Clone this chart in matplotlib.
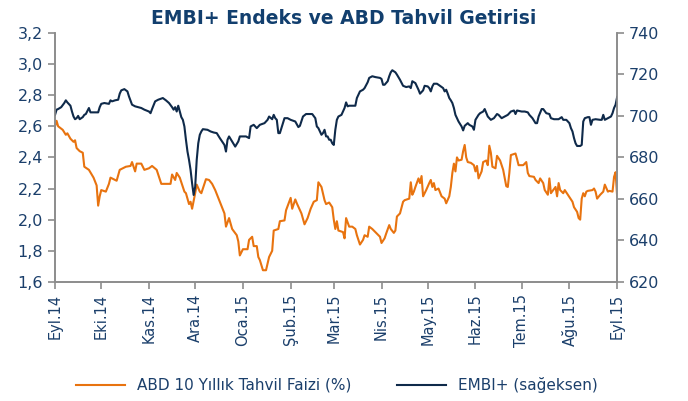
import matplotlib
matplotlib.use("Agg")
import matplotlib.pyplot as plt
from matplotlib.lines import Line2D
import pandas as pd

# ABD 10 yillik tahvil faizi (%) - gun: 1 Eylul 2014'ten itibaren gun sayisi
abd_gun = [0, 1, 2, 5, 7, 8, 10, 12, 13, 14,
           16, 18, 19, 22, 25, 27, 28, 29, 30, 33,
           35, 36, 38, 40, 42, 44, 46, 49, 50, 52,
           53, 56, 58, 61, 63, 66, 69, 73, 75, 76,
           78, 79, 81, 84, 85, 87, 88, 89, 91, 92,
           94, 95, 98, 100, 102, 104, 107, 110, 111, 113,
           115, 118, 119, 120, 122, 125, 126, 128, 129, 131,
           132, 133, 135, 137, 139, 141, 142, 145, 146, 149,
           150, 153, 154, 156, 157, 160, 162, 164, 166, 168,
           170, 171, 173, 175, 176, 178, 180, 181, 182, 183,
           184, 187, 188, 189, 191, 193, 195, 196, 198, 200,
           201, 203, 204, 206, 207, 209, 211, 212, 214, 215,
           217, 218, 220, 221, 222, 224, 226, 227, 230, 231,
           232, 233, 234, 236, 237, 238, 239, 241, 243, 244,
           245, 246, 247, 249, 251, 253, 254, 256, 257, 258,
           259, 260, 261, 262, 264, 265, 266, 267, 268, 270,
           272, 273, 274, 275, 277, 278, 280, 281, 282, 283,
           284, 286, 287, 289, 291, 293, 294, 295, 296, 299,
           300, 301, 304, 306, 307, 308, 311, 312, 314, 315,
           317, 318, 320, 321, 322, 325, 326, 327, 328, 330,
           331, 333, 336, 337, 339, 340, 341, 342, 343, 344,
           345, 346, 349, 350, 351, 352, 354, 356, 357, 359,
           360, 362, 363, 364, 365]
abd_faiz = [2.60, 2.635, 2.60, 2.577, 2.545, 2.555, 2.52, 2.50, 2.51, 2.46,
            2.44, 2.43, 2.34, 2.32, 2.27, 2.22, 2.09, 2.15, 2.19, 2.18,
            2.23, 2.27, 2.26, 2.25, 2.32, 2.33, 2.34, 2.345, 2.37, 2.31,
            2.36, 2.36, 2.32, 2.33, 2.345, 2.32, 2.23, 2.23, 2.23, 2.29,
            2.255, 2.30, 2.27, 2.18, 2.17, 2.10, 2.115, 2.07, 2.17, 2.225,
            2.18, 2.17, 2.26, 2.255, 2.23, 2.19, 2.115, 2.04, 1.955, 2.01,
            1.94, 1.90, 1.86, 1.77, 1.81, 1.81, 1.87, 1.89, 1.83, 1.83,
            1.76, 1.74, 1.675, 1.675, 1.76, 1.80, 1.93, 1.94, 1.99, 1.995,
            2.06, 2.14, 2.07, 2.13, 2.105, 2.04, 1.97, 2.01, 2.07, 2.115,
            2.125, 2.24, 2.21, 2.125, 2.10, 2.11, 2.08, 2.00, 1.94, 1.99,
            1.93, 1.92, 1.88, 2.01, 1.955, 1.955, 1.94, 1.90, 1.84, 1.87,
            1.90, 1.89, 1.955, 1.94, 1.93, 1.91, 1.89, 1.85, 1.88, 1.91,
            1.965, 1.94, 1.915, 1.93, 2.02, 2.04, 2.115, 2.125, 2.135, 2.24,
            2.16, 2.18, 2.21, 2.265, 2.235, 2.28, 2.15, 2.19, 2.235, 2.255,
            2.21, 2.235, 2.19, 2.20, 2.15, 2.135, 2.105, 2.15, 2.21, 2.30,
            2.36, 2.31, 2.40, 2.38, 2.385, 2.44, 2.48, 2.40, 2.37, 2.365,
            2.35, 2.31, 2.345, 2.265, 2.31, 2.37, 2.38, 2.35, 2.475, 2.43,
            2.34, 2.33, 2.41, 2.38, 2.32, 2.215, 2.21, 2.30, 2.415, 2.425,
            2.39, 2.35, 2.35, 2.37, 2.30, 2.28, 2.275, 2.255, 2.235, 2.265,
            2.235, 2.19, 2.16, 2.265, 2.17, 2.21, 2.15, 2.235, 2.19, 2.17,
            2.19, 2.16, 2.115, 2.08, 2.05, 2.01, 2.00, 2.135, 2.17, 2.15,
            2.18, 2.185, 2.19, 2.20, 2.18, 2.135, 2.16, 2.18, 2.225, 2.18,
            2.185, 2.18, 2.275, 2.305, 2.15]

# EMBI+ endeksi (sag eksen)
embi_gun = [0, 1, 2, 4, 6, 7, 8, 10, 11, 12,
            13, 14, 15, 16, 18, 19, 20, 22, 23, 25,
            28, 29, 30, 32, 35, 36, 37, 39, 41, 42,
            43, 45, 47, 48, 50, 52, 54, 56, 58, 61,
            62, 63, 65, 67, 70, 72, 74, 76, 77, 78,
            79, 80, 81, 82, 83, 84, 85, 86, 87, 88,
            89, 90, 91, 92, 93, 94, 95, 96, 99, 101,
            103, 105, 107, 110, 111, 112, 113, 115, 117, 119,
            120, 124, 126, 127, 129, 131, 133, 136, 138, 139,
            141, 142, 143, 144, 145, 146, 148, 149, 151, 153,
            156, 158, 159, 161, 163, 167, 169, 170, 171, 173,
            174, 175, 176, 177, 178, 179, 180, 181, 182, 183,
            184, 186, 187, 188, 189, 190, 191, 193, 195, 196,
            198, 200, 201, 203, 204, 206, 208, 211, 212, 213,
            214, 216, 217, 218, 219, 221, 222, 224, 226, 228,
            230, 231, 232, 234, 235, 236, 237, 239, 240, 242,
            243, 244, 245, 246, 248, 249, 252, 253, 254, 255,
            256, 257, 258, 259, 260, 261, 262, 264, 265, 266,
            268, 269, 271, 272, 273, 275, 276, 278, 279, 281,
            283, 285, 287, 288, 290, 292, 294, 296, 298, 299,
            300, 303, 305, 307, 308, 310, 312, 313, 314, 316,
            317, 319, 321, 322, 324, 327, 329, 330, 332, 334,
            335, 336, 337, 338, 339, 341, 342, 343, 344, 346,
            347, 348, 349, 351, 354, 355, 356, 357, 359, 361,
            362, 363, 364, 365]
embi = [700.5, 703.0, 703.3, 704.2, 706.2, 707.5, 706.5, 704.9, 702.1, 699.7,
        698.4, 698.9, 700.0, 698.4, 699.4, 700.5, 700.9, 703.8, 701.7, 701.7,
        701.7, 704.2, 705.8, 706.2, 705.8, 707.5, 707.0, 707.5, 707.8, 710.7,
        712.3, 712.9, 711.8, 709.4, 705.4, 704.6, 704.2, 703.8, 703.0, 702.1,
        701.3, 703.3, 707.0, 707.8, 708.6, 707.5, 706.2, 704.2, 703.0, 704.2,
        702.1, 704.9, 702.1, 699.4, 698.1, 694.9, 688.5, 682.8, 678.8, 674.0,
        667.5, 661.9, 665.9, 678.8, 686.8, 690.9, 692.5, 693.6, 693.3, 692.5,
        692.0, 691.7, 689.3, 686.0, 682.8, 688.5, 690.1, 687.7, 685.2, 687.7,
        690.1, 690.1, 689.3, 694.9, 695.7, 694.1, 695.7, 696.5, 698.1, 699.7,
        698.4, 700.5, 698.9, 698.1, 691.7, 691.7, 696.5, 698.9, 698.9, 698.1,
        697.3, 694.6, 695.2, 699.7, 700.9, 700.9, 698.9, 694.9, 694.1, 690.9,
        691.7, 693.3, 690.1, 690.1, 688.5, 688.5, 686.8, 686.0, 693.3, 698.1,
        699.7, 700.5, 702.1, 703.8, 706.5, 704.6, 704.9, 704.9, 704.9, 708.6,
        711.8, 712.6, 713.4, 716.2, 718.3, 719.1, 718.7, 718.3, 717.8, 715.0,
        715.0, 716.7, 719.1, 721.0, 722.0, 721.0, 719.9, 717.4, 714.5, 713.9,
        714.2, 713.4, 716.7, 715.8, 714.2, 712.6, 710.7, 712.3, 714.5, 714.2,
        713.4, 711.8, 714.2, 715.5, 715.5, 715.0, 713.4, 711.8, 712.6, 710.7,
        708.6, 707.5, 706.2, 703.8, 700.5, 698.9, 697.3, 694.9, 693.0, 695.2,
        696.5, 695.7, 694.9, 693.3, 698.1, 700.5, 701.3, 702.1, 703.3, 699.7,
        698.1, 698.9, 700.9, 700.5, 698.9, 699.7, 700.5, 702.1, 702.6, 700.9,
        702.6, 702.1, 702.1, 701.7, 700.5, 698.9, 696.5, 696.5, 699.7, 703.3,
        703.3, 701.3, 700.9, 698.9, 698.4, 698.4, 699.4, 698.1, 698.1, 696.5,
        694.1, 692.5, 689.3, 686.8, 685.5, 685.5, 686.0, 697.3, 698.9, 699.4,
        699.4, 695.7, 698.1, 698.4, 698.1, 698.1, 700.5, 698.1, 698.9, 699.7,
        701.3, 703.8, 705.4, 709.1]

ay_etiketleri = ["Eyl.14", "Eki.14", "Kas.14", "Ara.14", "Oca.15", "Şub.15", "Mar.15",
                 "Nis.15", "May.15", "Haz.15", "Tem.15", "Ağu.15", "Eyl.15"]

assert len(abd_gun) == len(abd_faiz)
assert len(embi_gun) == len(embi)

baslangic = pd.Timestamp("2014-09-01")
abd_tarih = baslangic + pd.to_timedelta(abd_gun, unit="D")
embi_tarih = baslangic + pd.to_timedelta(embi_gun, unit="D")
ay_basi = pd.date_range("2014-09-01", "2015-09-01", freq="MS")

TURUNCU = "#E8730F"
LACIVERT = "#0F2A4A"
YAZI = "#1B3F6B"
GRI = "#8C8C8C"

fig = plt.figure(figsize=(6.88, 4.01), dpi=100)
ax = fig.add_axes([0.080, 0.297, 0.817, 0.621])
ax2 = ax.twinx()

ax.plot(abd_tarih, abd_faiz, color=TURUNCU, lw=1.5)
ax2.plot(embi_tarih, embi, color=LACIVERT, lw=1.5)

ax.set_ylim(1.6, 3.2)
ax.set_yticks([1.6, 1.8, 2.0, 2.2, 2.4, 2.6, 2.8, 3.0, 3.2])
ax.set_yticklabels([f"{v:.1f}".replace(".", ",") for v in ax.get_yticks()])
ax2.set_ylim(620, 740)
ax2.set_yticks(range(620, 741, 20))

ax.set_xlim(ay_basi[0], ay_basi[-1])
ax.set_xticks(ay_basi)
ax.set_xticklabels(ay_etiketleri, rotation=90)

for a in (ax, ax2):
    for s in a.spines.values():
        s.set_color(GRI)
        s.set_linewidth(1.2)
    a.spines["top"].set_visible(False)
    a.tick_params(colors=GRI, labelcolor=YAZI, labelsize=11.5, length=5, width=1.2)
ax.tick_params(axis="x", labelsize=10.5)

fig.text(0.50, 0.955, "EMBI+ Endeks ve ABD Tahvil Getirisi", ha="center", va="center",
         fontsize=13.5, fontweight="bold", color="#123F6E")

handles = [Line2D([], [], color=TURUNCU, lw=1.5), Line2D([], [], color=LACIVERT, lw=1.5)]
fig.legend(handles, ["ABD 10 Yıllık Tahvil Faizi (%)", "EMBI+ (sağeksen)"],
           loc="center", bbox_to_anchor=(0.49, 0.04), ncol=2, frameon=False,
           fontsize=11, handlelength=3.2, columnspacing=3.0, labelcolor=YAZI)

fig.savefig("out.png", dpi=100)
